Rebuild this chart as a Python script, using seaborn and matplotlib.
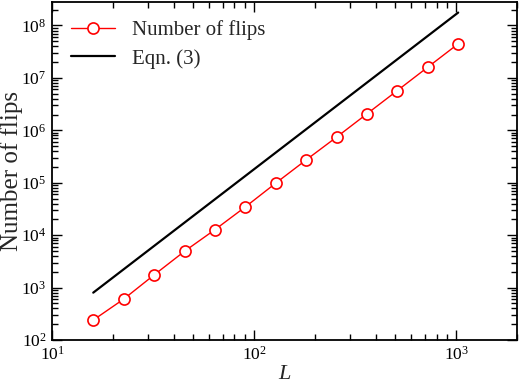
import matplotlib
matplotlib.use("Agg")
import matplotlib.pyplot as plt
import numpy as np
import pandas as pd
import seaborn as sns
from matplotlib.ticker import LogLocator, NullFormatter

# data
L_values = [16, 22.6, 32, 45.3, 64, 90.5, 128, 181, 256, 362, 512, 724, 1024]
flips = [240, 600, 1740, 4930, 12700, 34500, 9.8e4, 2.72e5, 7.4e5, 2.06e6, 5.73e6, 1.6e7, 4.46e7]
eqn_L = [16, 1024]
eqn_flips = [800, 1.76e8]

sns.set_style("ticks")
plt.rcParams["font.family"] = ["Liberation Serif", "DejaVu Serif"]
plt.rcParams["mathtext.fontset"] = "custom"
plt.rcParams["mathtext.rm"] = "Liberation Serif"
plt.rcParams["mathtext.it"] = "Liberation Serif:italic"

fig = plt.figure(figsize=(5.19, 3.85), dpi=100)
ax = fig.add_axes([0.1002, 0.1169, 0.8958, 0.8779])

df = pd.DataFrame({"L": L_values, "flips": flips})
eq = pd.DataFrame({"L": eqn_L, "flips": eqn_flips})

sns.lineplot(data=df, x="L", y="flips", ax=ax, color="#ff0000", lw=1.0,
             marker="o", markersize=8, markerfacecolor="white",
             markeredgecolor="#ff0000", markeredgewidth=1.2,
             label="Number of flips")
sns.lineplot(data=eq, x="L", y="flips", ax=ax, color="black", lw=1.6,
             label="Eqn. (3)")

ax.set_xscale("log")
ax.set_yscale("log")
ax.set_xlim(10, 2000)
ax.set_ylim(100, 2.8e8)

ax.xaxis.set_major_locator(LogLocator(base=10, numticks=10))
ax.yaxis.set_major_locator(LogLocator(base=10, numticks=10))
ax.xaxis.set_minor_locator(LogLocator(base=10, subs=np.arange(2, 10), numticks=20))
ax.yaxis.set_minor_locator(LogLocator(base=10, subs=np.arange(2, 10), numticks=20))
ax.xaxis.set_minor_formatter(NullFormatter())
ax.yaxis.set_minor_formatter(NullFormatter())

ax.tick_params(which="both", direction="in", top=True, right=True, width=1.0,
               labelsize=12.5, colors="black")
ax.tick_params(which="major", length=7, pad=4)
ax.tick_params(which="minor", length=4)
for sp in ax.spines.values():
    sp.set_linewidth(1.3)
    sp.set_color("black")

ax.set_xlabel("$L$", fontsize=16, labelpad=1)
ax.set_ylabel("Number of flips", fontsize=18)
ax.yaxis.set_label_coords(-0.063, 0.5)

ax.legend(loc="upper left", frameon=False, fontsize=15, handlelength=2.1,
          borderaxespad=0.2, labelspacing=0.4, handletextpad=0.8,
          bbox_to_anchor=(0.015, 0.982))

fig.savefig("out.png", dpi=100)
